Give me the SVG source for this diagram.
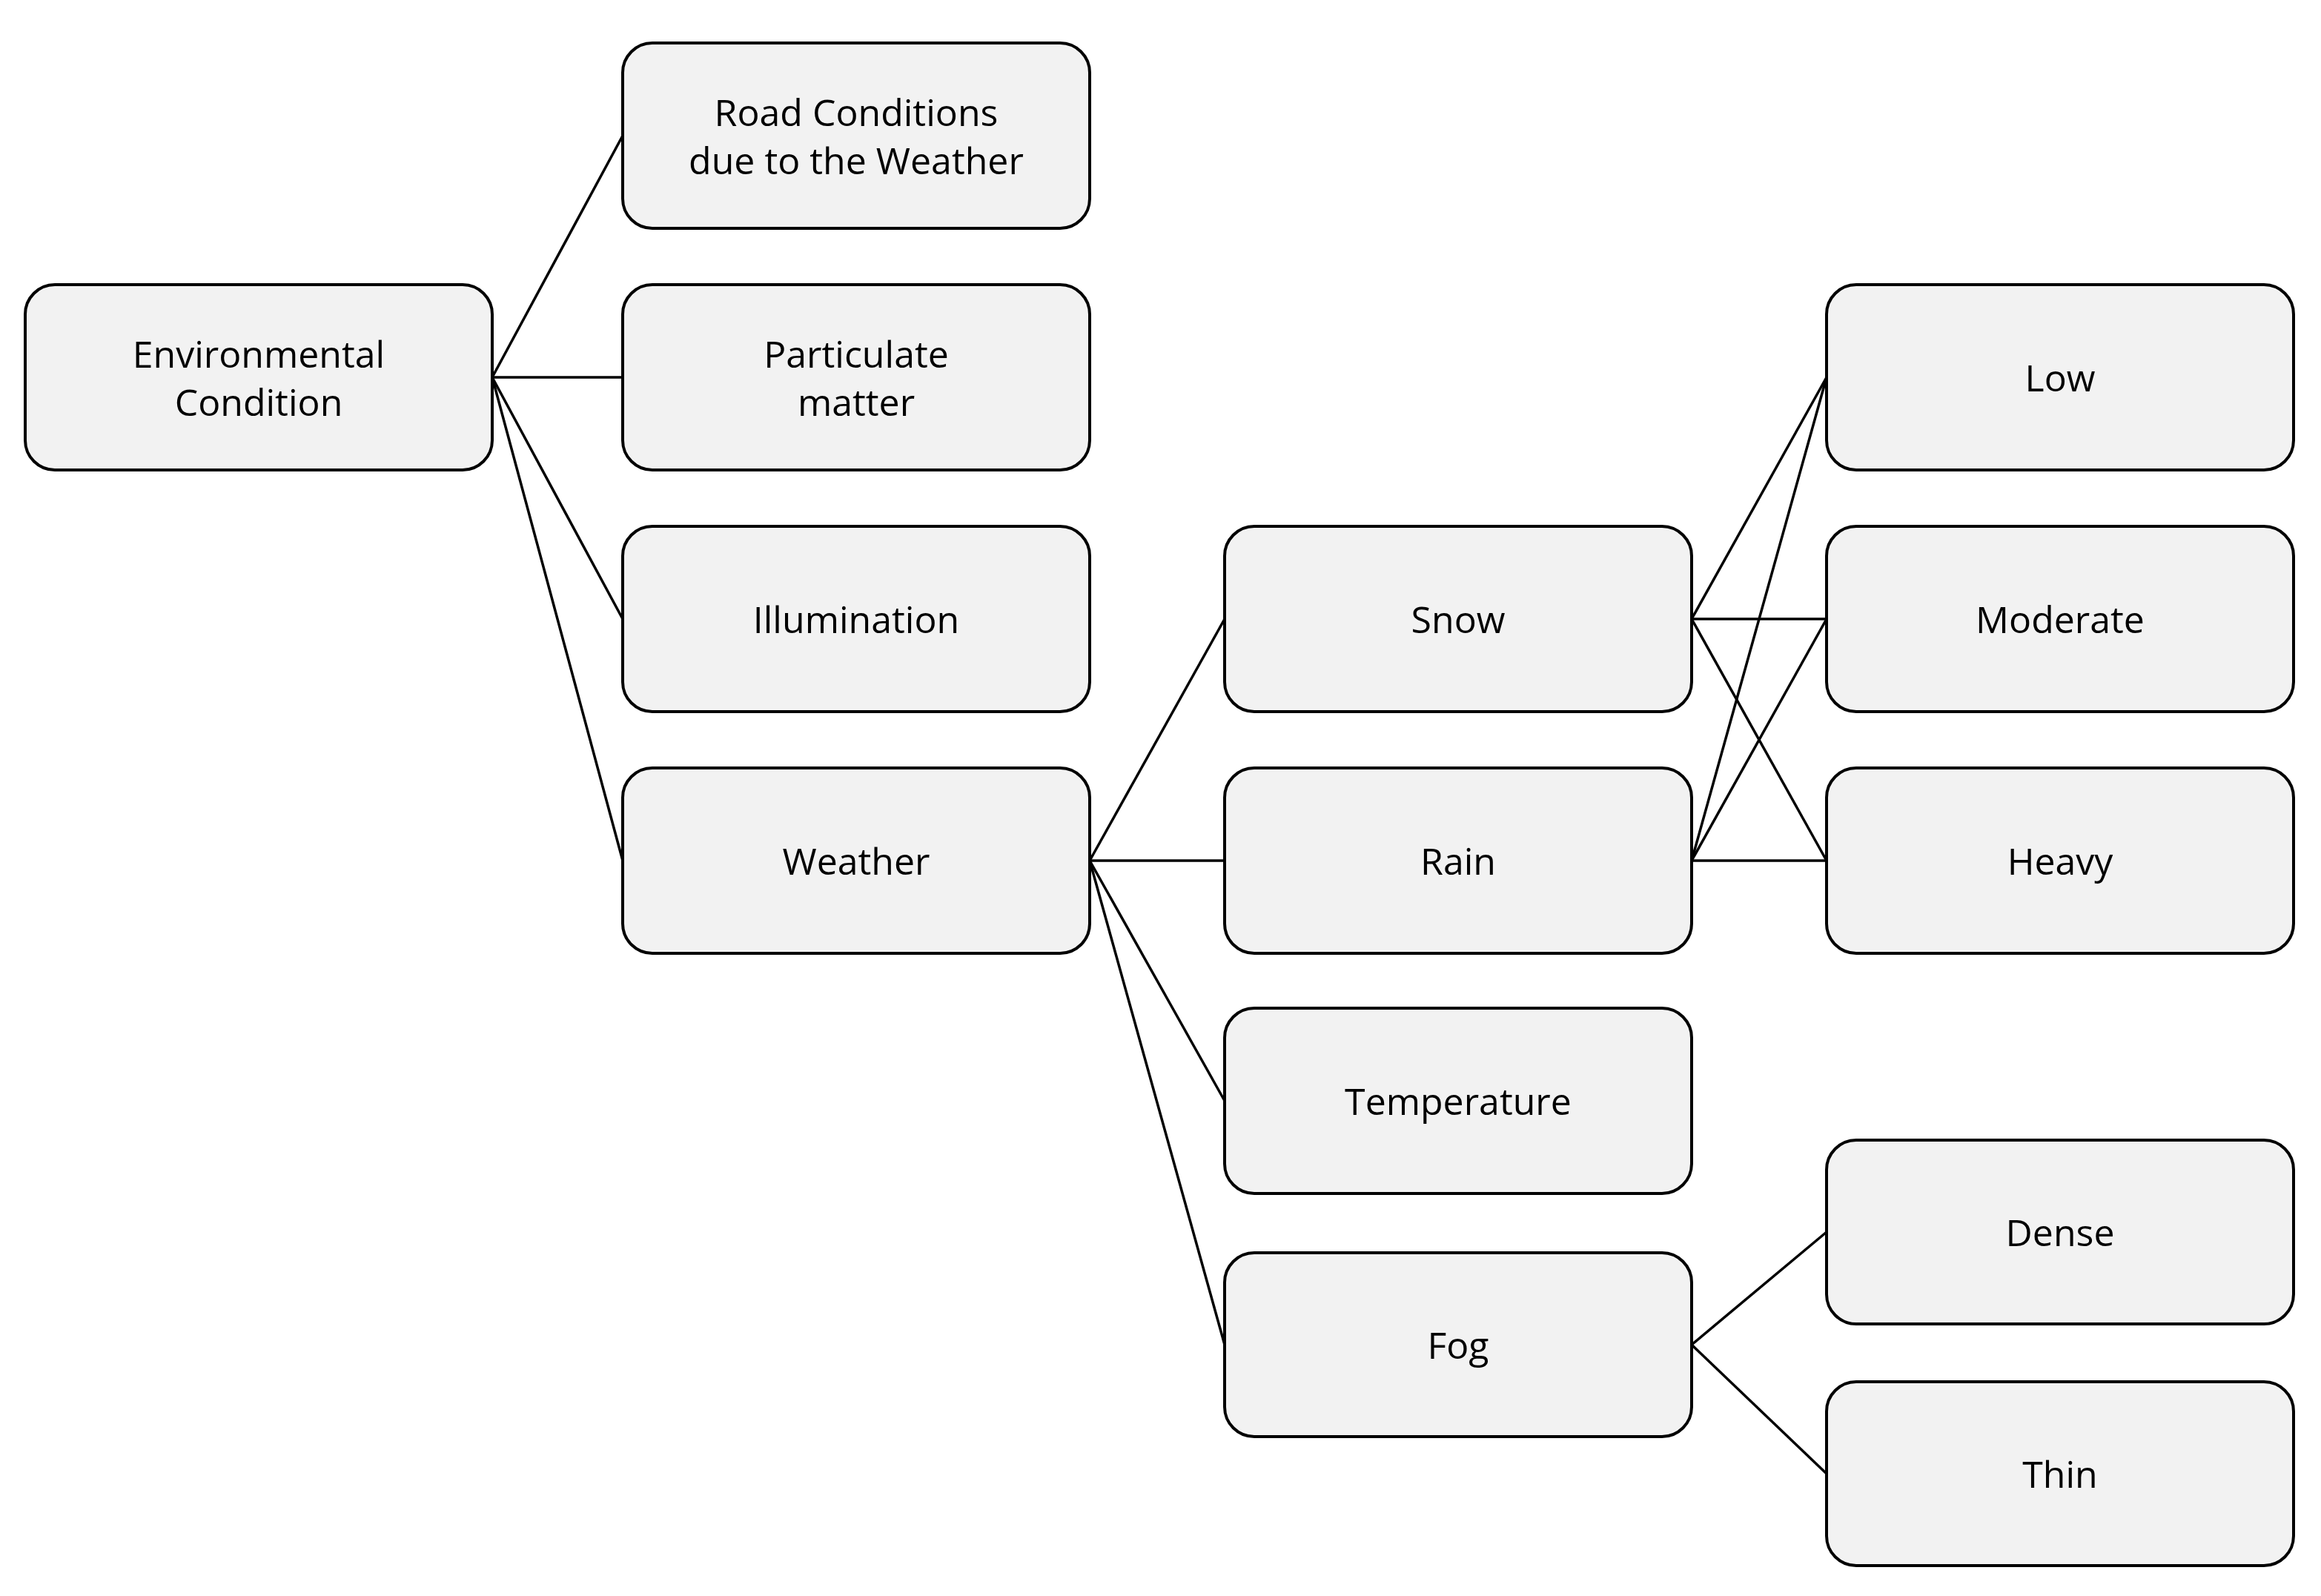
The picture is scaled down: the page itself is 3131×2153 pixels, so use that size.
<svg xmlns="http://www.w3.org/2000/svg" width="3131" height="2153" viewBox="0 0 3131 2153">
<style>
rect{fill:#f2f2f2;stroke:#000;stroke-width:4}
text{font-family:"Open Sans","Noto Sans","DejaVu Sans",sans-serif;font-size:50px;text-anchor:middle;dominant-baseline:central;fill:#000}
#connectors line{stroke:#000;stroke-width:3.5}
</style>
<rect width="3131" height="2153" style="fill:#fff;stroke:none"/>
<g id="connectors">
<line x1="664" y1="509" x2="840" y2="183"/>
<line x1="664" y1="509" x2="840" y2="509"/>
<line x1="664" y1="509" x2="840" y2="835"/>
<line x1="664" y1="509" x2="840" y2="1161"/>
<line x1="1470" y1="1161" x2="1652" y2="835"/>
<line x1="1470" y1="1161" x2="1652" y2="1161"/>
<line x1="1470" y1="1161" x2="1652" y2="1485"/>
<line x1="1470" y1="1161" x2="1652" y2="1814"/>
<line x1="2282" y1="835" x2="2464" y2="509"/>
<line x1="2282" y1="835" x2="2464" y2="835"/>
<line x1="2282" y1="835" x2="2464" y2="1161"/>
<line x1="2282" y1="1161" x2="2464" y2="509"/>
<line x1="2282" y1="1161" x2="2464" y2="835"/>
<line x1="2282" y1="1161" x2="2464" y2="1161"/>
<line x1="2282" y1="1814" x2="2464" y2="1662"/>
<line x1="2282" y1="1814" x2="2464" y2="1988"/>
</g>
<g id="env"><rect x="34" y="384" width="630" height="250" rx="40"/><text x="349" y="477">Environmental</text><text x="349" y="542">Condition</text></g>
<g id="road"><rect x="840" y="58" width="630" height="250" rx="40"/><text x="1155" y="151">Road Conditions</text><text x="1155" y="216">due to the Weather</text></g>
<g id="pm"><rect x="840" y="384" width="630" height="250" rx="40"/><text x="1155" y="477">Particulate</text><text x="1155" y="542">matter</text></g>
<g id="illum"><rect x="840" y="710" width="630" height="250" rx="40"/><text x="1155" y="835">Illumination</text></g>
<g id="weather"><rect x="840" y="1036" width="630" height="250" rx="40"/><text x="1155" y="1161">Weather</text></g>
<g id="snow"><rect x="1652" y="710" width="630" height="250" rx="40"/><text x="1967" y="835">Snow</text></g>
<g id="rain"><rect x="1652" y="1036" width="630" height="250" rx="40"/><text x="1967" y="1161">Rain</text></g>
<g id="temp"><rect x="1652" y="1360" width="630" height="250" rx="40"/><text x="1967" y="1485">Temperature</text></g>
<g id="fog"><rect x="1652" y="1690" width="630" height="248" rx="40"/><text x="1967" y="1814">Fog</text></g>
<g id="low"><rect x="2464" y="384" width="630" height="250" rx="40"/><text x="2779" y="509">Low</text></g>
<g id="moderate"><rect x="2464" y="710" width="630" height="250" rx="40"/><text x="2779" y="835">Moderate</text></g>
<g id="heavy"><rect x="2464" y="1036" width="630" height="250" rx="40"/><text x="2779" y="1161">Heavy</text></g>
<g id="dense"><rect x="2464" y="1538" width="630" height="248" rx="40"/><text x="2779" y="1662">Dense</text></g>
<g id="thin"><rect x="2464" y="1864" width="630" height="248" rx="40"/><text x="2779" y="1988">Thin</text></g>
</svg>
